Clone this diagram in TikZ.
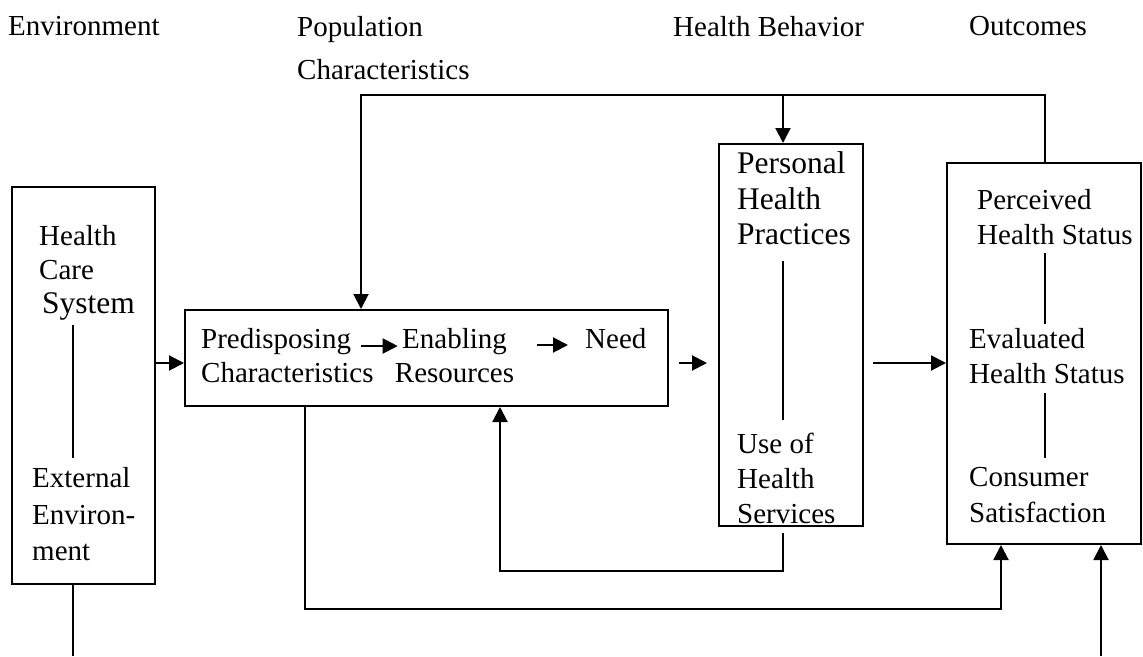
\documentclass[tikz,border=0pt]{standalone}
\usepackage{fontspec}
\setmainfont{Liberation Serif}
\usetikzlibrary{arrows.meta}

\tikzset{
	box/.style={draw, line width=2pt, inner sep=0pt},
	txt/.style={inner sep=0pt, anchor=north west, align=left, font=\fontsize{29}{35}\selectfont},
	bigtxt/.style={txt, font=\fontsize{31.5}{35.5}\selectfont},
	link/.style={line width=1.8pt},
	flow/.style={line width=2pt, -{Triangle[length=15pt,width=15pt]}},
}

\begin{document}
\begin{tikzpicture}[x=1pt, y=-1pt]
			%%%%% START %%%%%
			\useasboundingbox (0, 0) rectangle (1143, 656);
			
			\node[txt] (hEnv) at (8, 16.2) {Environment};
			\node[txt] (hPop) at (297, 16.2) {Population\\[8pt]Characteristics};
			\node[txt] (hBeh) at (673, 16.2) {Health Behavior};
			\node[txt] (hOut) at (969, 16.2) {Outcomes};
			
			\node[box, minimum width=143pt, minimum height=397pt] (env) at (83.5, 385.5) {};
			\node[box, minimum width=483pt, minimum height=96pt] (pop) at (426.5, 358) {};
			\node[box, minimum width=144pt, minimum height=382pt] (hb) at (791, 335) {};
			\node[box, minimum width=194pt, minimum height=381pt] (out) at (1044, 353.5) {};
			
			\node[txt, font=\fontsize{29}{34}\selectfont] (envA) at (39, 225.2) {Health\\Care\\\hspace{3pt}{\fontsize{31.5}{36}\selectfont System}};
			\node[txt, font=\fontsize{29}{36.5}\selectfont] (envB) at (32, 467.2) {External\\Environ-\\ment};
			
			\node[txt, font=\fontsize{29}{34}\selectfont] (predis) at (201, 328.2) {Predisposing\\Characteristics};
			\node[txt, anchor=north, align=center, font=\fontsize{29}{34}\selectfont] (enab) at (454.5, 328.2) {Enabling\\Resources};
			\node[txt] (need) at (585, 328.2) {Need};
			
			\node[bigtxt] (pers) at (737, 151.5) {Personal\\Health\\Practices};
			\node[txt] (use) at (737, 433.2) {Use of\\Health\\Services};
			
			\node[txt] (perc) at (977, 189.2) {Perceived\\Health Status};
			\node[txt] (eval) at (969, 328.2) {Evaluated\\Health Status};
			\node[txt, font=\fontsize{29}{36}\selectfont] (cons) at (969, 467.4) {Consumer\\Satisfaction};
			
			% spines and bends
			\coordinate (envsp) at (73, 656);
			\coordinate (hbsp) at (783, 0);
			\coordinate (outsp) at (1045, 0);
			\coordinate (row) at (0, 363);
			\coordinate (fb) at (361, 95);
			\coordinate (fb2) at (500, 571);
			\coordinate (fb3) at (305, 609);
			\coordinate (outin) at (1001, 0);
			\coordinate (extin) at (1101, 656);
			\coordinate (a1) at (361, 346);
			\coordinate (a2) at (537, 345);
			
			\draw[link] ([yshift=-4pt]envA.south -| envsp) -- ([yshift=9pt]envB.north -| envsp);
			\draw[link] ([yshift=-16pt]pers.south -| hbsp) -- ([yshift=13pt]use.north -| hbsp);
			\draw[link] ([yshift=-8pt]perc.south -| outsp) -- ([yshift=4pt]eval.north -| outsp);
			\draw[link] ([yshift=-9pt]eval.south -| outsp) -- ([yshift=9pt]cons.north -| outsp);
			
			\draw[flow] (a1) -- ([xshift=3pt]enab.west |- a1);
			\draw[flow] (a2) -- ([xshift=-17pt]need.west |- a2);
			
			\draw[flow] (env.east |- row) -- (pop.west |- row);
			\draw[flow] ([xshift=10pt]pop.east |- row) -- ([xshift=-11pt]hb.west |- row);
			\draw[flow] ([xshift=9pt]hb.east |- row) -- (out.west |- row);
			
			\draw[flow] (out.north -| outsp) |- (fb) -- (fb |- pop.north);
			\draw[flow] (hbsp |- fb) -- (hb.north -| hbsp);
			\draw[flow] ([yshift=-6pt]hb.south -| hbsp) |- (fb2) -- (fb2 |- pop.south);
			\draw[flow] (pop.south -| fb3) -- (fb3) -| (out.south -| outin);
			
			\draw[link, line width=2pt] (env.south -| envsp) -- (envsp);
			\draw[flow] (extin) -- (extin |- out.south);
			%%%%% END %%%%%
\end{tikzpicture}
\end{document}
